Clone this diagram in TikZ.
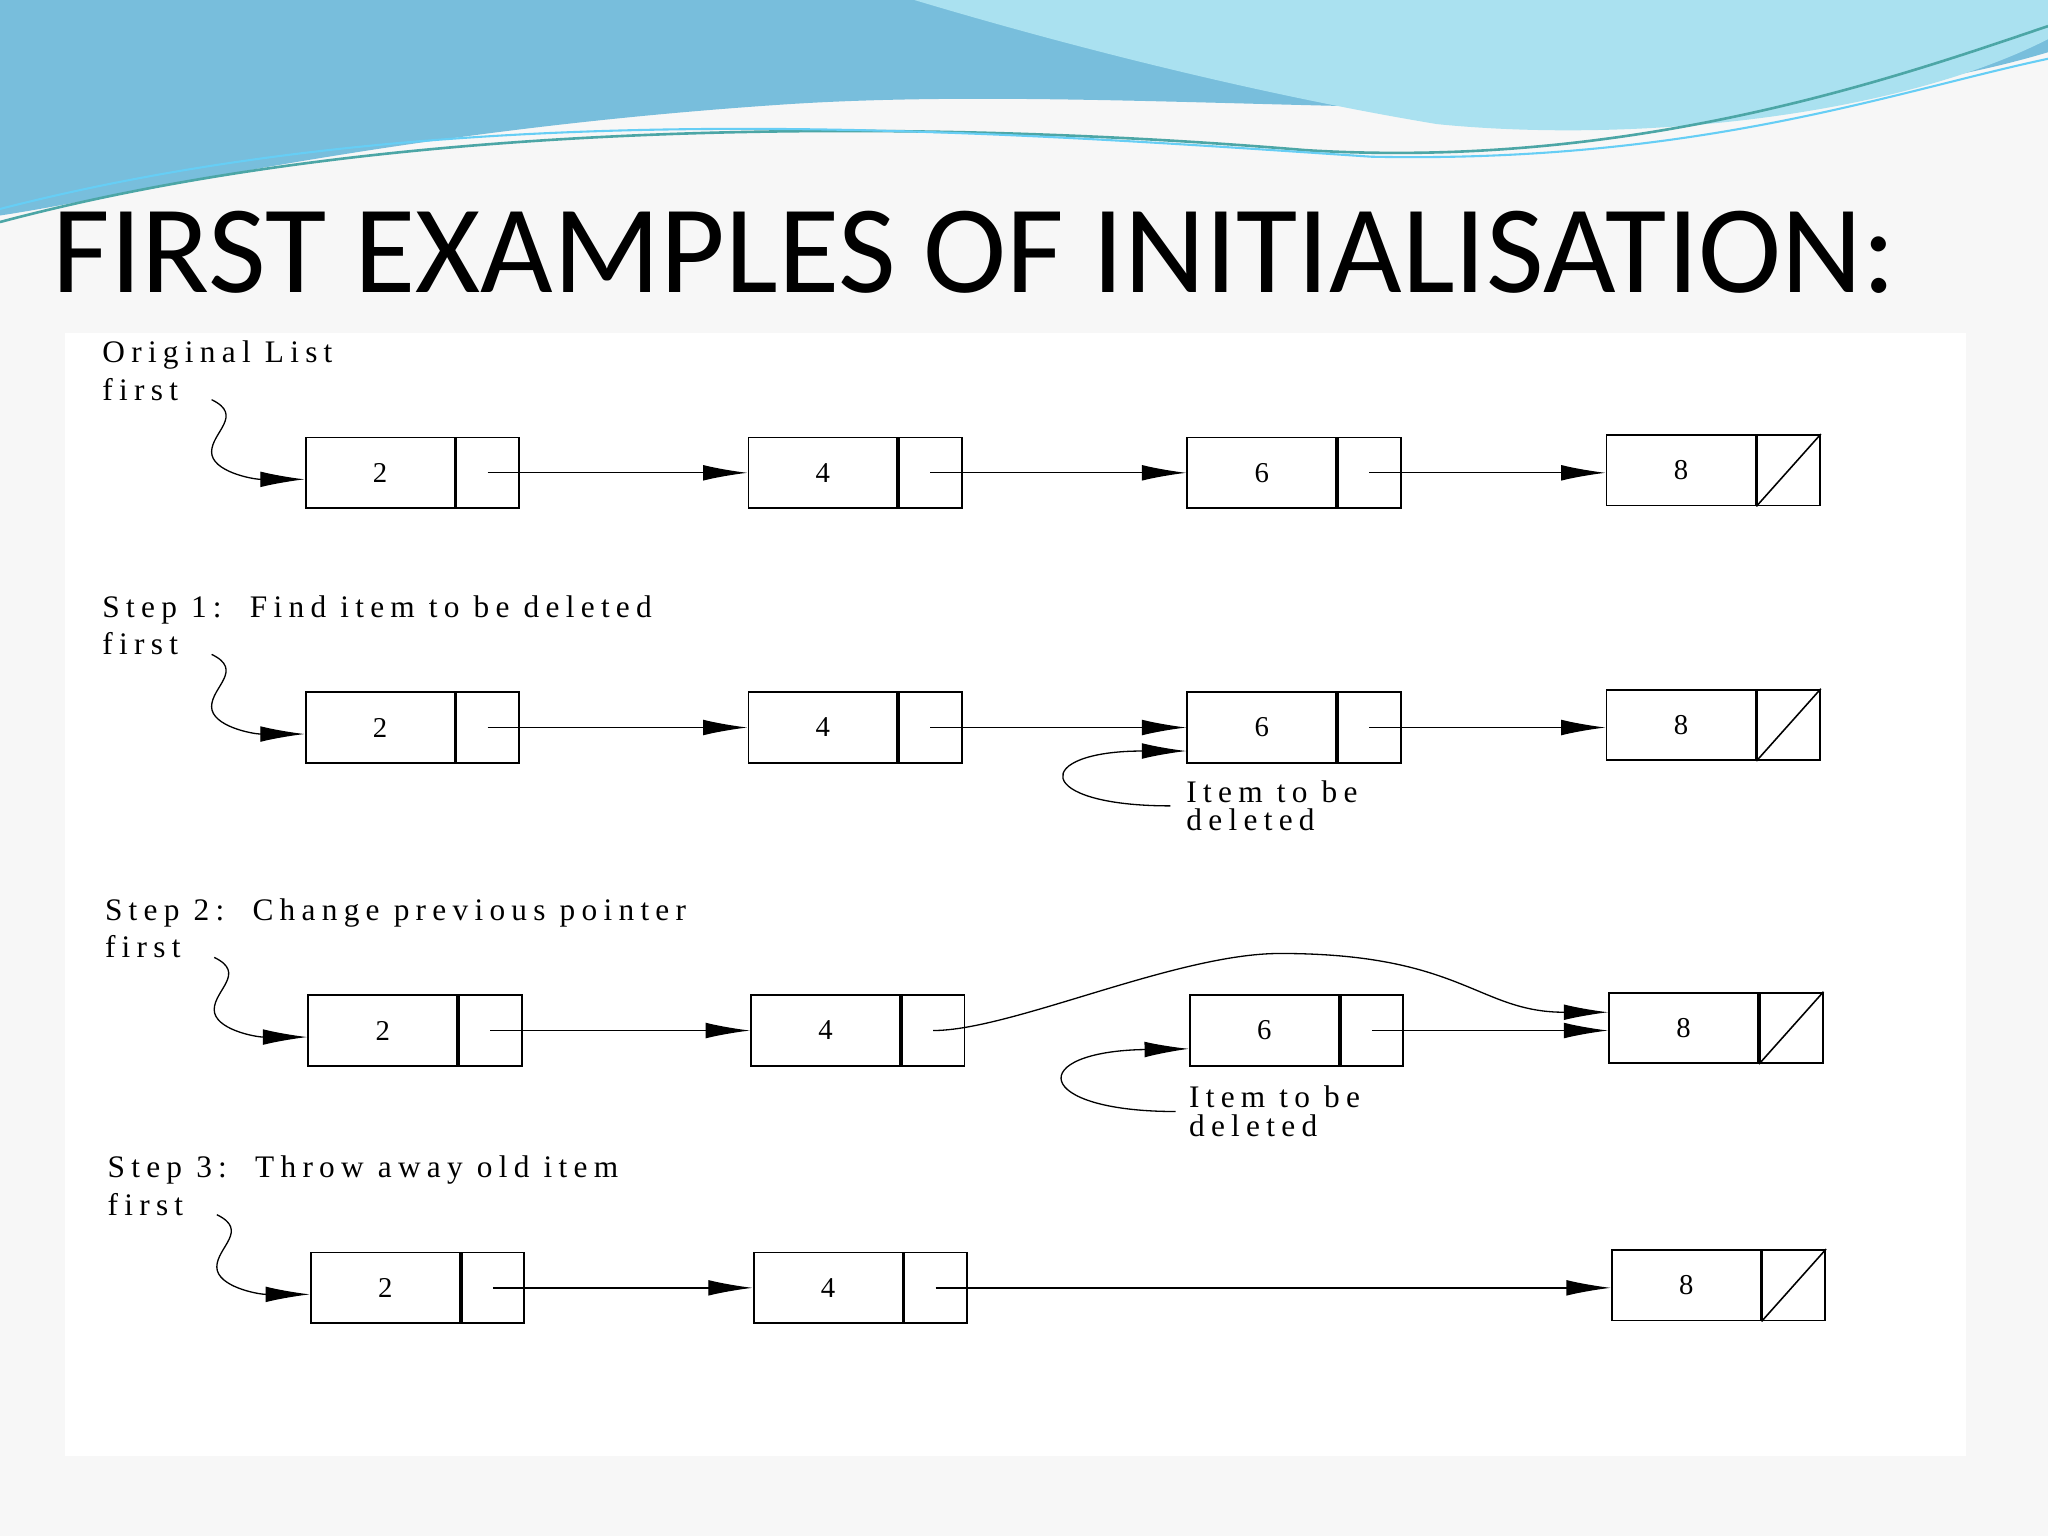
\documentclass[tikz,border=0pt]{standalone}
\usepackage{fontspec}
\setmainfont{Liberation Serif}
\newfontfamily\diagfont[LetterSpace=20]{Liberation Serif}
\newfontfamily\titlefont{Carlito}
\usetikzlibrary{arrows.meta}
\definecolor{wavea}{RGB}{120,190,220}
\definecolor{waveb}{RGB}{170,225,240}
\begin{document}
\begin{tikzpicture}[x=0.5pt,y=-0.5pt,
  dbox/.style={draw,line width=0.7pt,minimum width=57pt,minimum height=27pt,inner sep=0pt,font=\diagfont\fontsize{11}{11}\selectfont},
  pbox/.style={draw,line width=0.7pt,minimum width=24pt,minimum height=27pt,inner sep=0pt},
  link/.style={line width=0.5pt,-{Latex[length=17pt,width=6pt]}},
  lbl/.style={anchor=west,inner sep=0pt,font=\diagfont\fontsize{12}{12}\selectfont,align=left}]
\useasboundingbox (0,0) rectangle (1568,1176);
\fill[black!3] (0,0) rectangle (1568,1176);
\fill[white] (50,255) rectangle (1505,1115);
% header waves
\fill[wavea] (0,0) -- (1568,0) -- (1568,40) .. controls (1300,120) and (900,60) .. (600,80) .. controls (300,100) and (100,150) .. (0,165) -- cycle;
\fill[waveb] (700,0) -- (1568,0) -- (1568,30) .. controls (1450,90) and (1250,110) .. (1100,95) .. controls (950,70) and (800,30) .. (700,0) -- cycle;
\draw[teal!70,line width=1pt] (0,170) .. controls (300,90) and (700,90) .. (1000,115) .. controls (1250,130) and (1450,60) .. (1568,20);
\draw[cyan!60,line width=0.8pt] (0,160) .. controls (350,70) and (750,100) .. (1050,120) .. controls (1300,125) and (1450,70) .. (1568,45);
\node[anchor=west,inner sep=0pt,font=\titlefont\fontsize{48}{48}\selectfont] (title) at (40,193) {FIRST EXAMPLES OF INITIALISATION:};
% rows
\foreach \r/\y/\dx/\lab in {1/362/0/{Original List},2/557/0/{Step 1:\ \ Find item to be deleted},3/789/2/{Step 2:\ \ Change previous pointer},4/986/4/{Step 3:\ \ Throw away old item}}{
  \node[lbl] (t\r) at (78+\dx,\y-90) {\lab};
  \node[lbl] (f\r) at (78+\dx,\y-64) {first};
  \coordinate (fs\r) at (162+\dx,\y-56);
  \node[dbox] (a\r) at (291+\dx,\y) {2}; \node[pbox,anchor=west] (ap\r) at (a\r.east) {};
  \node[dbox] (b\r) at (630+\dx,\y) {4}; \node[pbox,anchor=west] (bp\r) at (b\r.east) {};
  \node[dbox] (d\r) at (1287+\dx,\y-2) {8}; \node[pbox,anchor=west] (dp\r) at (d\r.east) {};
  \draw[line width=0.6pt] (dp\r.south west) -- (dp\r.north east);
  \draw[link] (fs\r) .. controls +(25,12) and +(0,-15) .. ++(0,40) .. controls +(0,15) and +(-40,0) .. (a\r.west|-0,\y+5);
  \draw[link] (ap\r.center) -- (b\r.west);
}
\foreach \r/\y/\dx in {1/362/0,2/557/0,3/789/2}{
  \node[dbox] (c\r) at (966+\dx,\y) {6}; \node[pbox,anchor=west] (cp\r) at (c\r.east) {};
}
\draw[link] (bp1.center) -- (c1.west); \draw[link] (cp1.center) -- (d1.west|-cp1.center);
\draw[link] (bp2.center) -- (c2.west); \draw[link] (cp2.center) -- (d2.west|-cp2.center);
\draw[link] (cp3.center) -- (d3.west|-cp3.center);
\draw[link] (bp3.center) .. controls +(60,0) and +(-80,0) .. (980,730) .. controls +(140,0) and +(-100,0) .. (d3.west|-0,775);
\draw[link] (bp4.center) -- (d4.west|-bp4.center);
% item to be deleted
\node[lbl,align=left] (i2) at (908,617) {Item to be\\[-1pt]deleted};
\node[lbl,align=left] (i3) at (910,851) {Item to be\\[-1pt]deleted};
\draw[link] (896,617) .. controls (790,617) and (790,575) .. (c2.west|-0,575);
\draw[link] (900,851) .. controls (790,851) and (785,805) .. (c3.west|-0,803);
\end{tikzpicture}
\end{document}
